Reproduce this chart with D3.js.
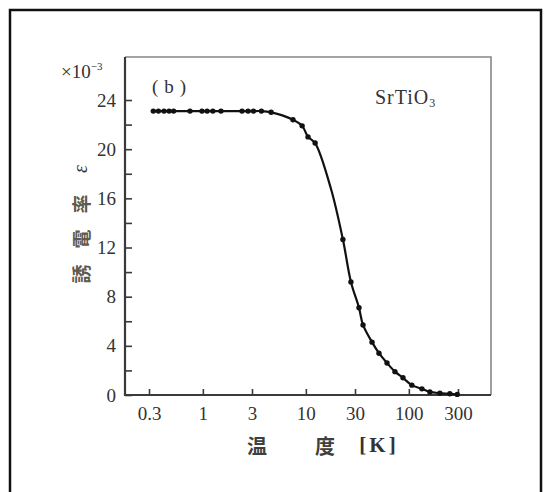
<!DOCTYPE html>
<html>
<head>
<meta charset="utf-8">
<script src="https://cdn.jsdelivr.net/npm/d3@7"></script>
<style>
    body { margin: 0; background: #ffffff; }
    #chart { display: block; }
    .tick-label { font-family: "Liberation Serif", "DejaVu Serif", serif; fill: #333; }
    .cjk { font-family: "Noto Sans CJK JP", "Noto Sans CJK SC", sans-serif; }
</style>
</head>
<body>
<svg id="chart" width="544" height="492"></svg>
<script>

/*********************/
/*** INIT VARIABLE ***/
/*********************/

// measured points (temperature K, dielectric constant x10^-3)
var temp_k = [0.33, 0.37, 0.42, 0.47, 0.52, 0.75, 0.98, 1.1, 1.25, 1.5, 2.4, 2.75, 3.1, 3.7, 4.6,
              7.5, 9.2, 10.5, 12.3, 22.9, 27.4, 32.8, 35.9, 43.9, 51.3, 61.4, 73.3, 87.7,
              107, 134, 160, 200, 250, 295];
var eps_val = [23.1, 23.1, 23.1, 23.1, 23.1, 23.1, 23.1, 23.1, 23.1, 23.1, 23.1, 23.1, 23.1, 23.1, 23.0,
               22.4, 21.9, 21.0, 20.5, 12.65, 9.2, 7.1, 5.7, 4.3, 3.4, 2.6, 1.9, 1.4,
               0.8, 0.5, 0.25, 0.15, 0.1, 0.05];

// extra point on the fitted curve (steep part between measured points)
var curve_temp = [17.5];
var curve_eps  = [16.8];

var x_ticks = [0.3, 1, 3, 10, 30, 100, 300];
var y_ticks = [0, 2, 4, 6, 8, 10, 12, 14, 16, 18, 20, 22, 24];

var y_label_chars = ['誘', '電', '率', 'ε'];

var svg = d3.select('#chart');

var margin = {top: 57, right: 53, bottom: 97, left: 125},
    width  = 544 - margin.left - margin.right,
    height = 492 - margin.top - margin.bottom;

/********************************/
/*** DECLARE HELPER FUNCTIONS ***/
/********************************/

function build_points(xs, ys) {
    var pts = [ ];
    for (var i = 0; i < xs.length; i++) pts.push({t: xs[i], e: ys[i]});
    return pts;
}

function render_chart() {
    var x = d3.scaleLog()
        .domain([0.1754, 627.6])
        .range([0, width]);

    var y = d3.scaleLinear()
        .domain([0, 27.5])
        .range([height, 0]);

    // outer frame
    svg.append('rect')
        .attr('x', 10).attr('y', 10)
        .attr('width', 531).attr('height', 500)
        .attr('fill', 'none')
        .attr('stroke', '#111')
        .attr('stroke-width', 2.5);

    var g = svg.append('g')
        .attr('transform', `translate(${margin.left}, ${margin.top})`);

    // top and right border of plot box
    g.append('path')
        .attr('d', `M0,0 H${width} V${height}`)
        .attr('fill', 'none')
        .attr('stroke', '#8a8585')
        .attr('stroke-width', 1.6);

    // y axis (ticks inward)
    var y_axis = g.append('g')
        .call(d3.axisLeft(y)
                .tickValues(y_ticks)
                .tickSizeInner(-7)
                .tickSizeOuter(0)
                .tickPadding(9)
                .tickFormat(function(d) { return d % 4 === 0 ? d : ''; }));

    // x axis (ticks inward)
    var x_axis = g.append('g')
        .attr('transform', `translate(0, ${height})`)
        .call(d3.axisBottom(x)
                .tickValues(x_ticks)
                .tickSizeInner(-6)
                .tickSizeOuter(0)
                .tickPadding(12)
                .tickFormat(function(d) { return d; }));

    [y_axis, x_axis].forEach(function(ax) {
        ax.select('.domain').attr('stroke', '#3a3a3a').attr('stroke-width', 2.2);
        ax.selectAll('.tick line').attr('stroke', '#3a3a3a').attr('stroke-width', 1.6);
        ax.selectAll('.tick text')
            .classed('tick-label', true)
            .attr('font-size', 19)
            .attr('fill', '#333');
    });
    x_axis.select('.domain').attr('d', `M0,0 H${width}`);
    y_axis.select('.domain').attr('d', `M0,${height + 1} V0`);

    // fitted curve through measured + extra points
    var dots = build_points(temp_k, eps_val);
    var curve_pts = dots.concat(build_points(curve_temp, curve_eps))
        .sort(function(a, b) { return d3.ascending(a.t, b.t); });

    var line = d3.line()
        .x(function(d) { return x(d.t); })
        .y(function(d) { return y(d.e); })
        .curve(d3.curveCatmullRom.alpha(0.5));

    g.append('path')
        .datum(curve_pts)
        .attr('d', line)
        .attr('fill', 'none')
        .attr('stroke', '#111')
        .attr('stroke-width', 2.2);

    g.selectAll('.dot')
        .data(dots)
        .enter().append('circle')
        .attr('class', 'dot')
        .attr('cx', function(d) { return x(d.t); })
        .attr('cy', function(d) { return y(d.e); })
        .attr('r', 2.7)
        .attr('fill', '#111');

    // scale multiplier label
    var mult = svg.append('text')
        .attr('class', 'tick-label')
        .attr('x', 61).attr('y', 78)
        .attr('font-size', 19)
        .attr('fill', '#444');
    mult.append('tspan').text('×10');
    mult.append('tspan').attr('dy', -8).attr('font-size', 11).text('−3');

    // panel tag
    svg.append('text')
        .attr('class', 'tick-label')
        .attr('x', 152).attr('y', 93)
        .attr('font-size', 19)
        .attr('letter-spacing', 6)
        .attr('fill', '#444')
        .text('(b)');

    // material name
    var mat = svg.append('text')
        .attr('class', 'tick-label')
        .attr('x', 375).attr('y', 104)
        .attr('font-size', 20)
        .attr('letter-spacing', 1)
        .attr('fill', '#4a4a4a');
    mat.append('tspan').text('SrTiO');
    mat.append('tspan').attr('dy', 3).attr('font-size', 12).text('3');

    // y axis title, each glyph rotated
    for (var i = 0; i < y_label_chars.length; i++) {
        var ch = y_label_chars[i],
            cy = 274 - 35 * i;
        svg.append('text')
            .attr('class', ch === 'ε' ? 'tick-label' : 'cjk')
            .attr('transform', `translate(80, ${cy}) rotate(-90)`)
            .attr('text-anchor', 'middle')
            .attr('dominant-baseline', 'central')
            .attr('font-size', ch === 'ε' ? 20 : 19)
            .attr('font-weight', ch === 'ε' ? 'normal' : 'bold')
            .attr('font-style', ch === 'ε' ? 'italic' : 'normal')
            .attr('fill', '#5e5a4c')
            .text(ch);
    }

    // x axis title
    svg.append('text')
        .attr('class', 'cjk')
        .attr('x', 257).attr('y', 445)
        .attr('text-anchor', 'middle')
        .attr('dominant-baseline', 'central')
        .attr('font-size', 20).attr('font-weight', 'bold')
        .attr('fill', '#3f3f3f')
        .text('温');
    svg.append('text')
        .attr('class', 'cjk')
        .attr('x', 325).attr('y', 445)
        .attr('text-anchor', 'middle')
        .attr('dominant-baseline', 'central')
        .attr('font-size', 20).attr('font-weight', 'bold')
        .attr('fill', '#3f3f3f')
        .text('度');
    svg.append('text')
        .attr('class', 'tick-label')
        .attr('x', 379).attr('y', 445)
        .attr('text-anchor', 'middle')
        .attr('dominant-baseline', 'central')
        .attr('font-size', 21).attr('font-weight', 'bold')
        .attr('letter-spacing', 3)
        .attr('fill', '#3f3f3f')
        .text('[K]');
}

render_chart();
</script>
</body>
</html>
